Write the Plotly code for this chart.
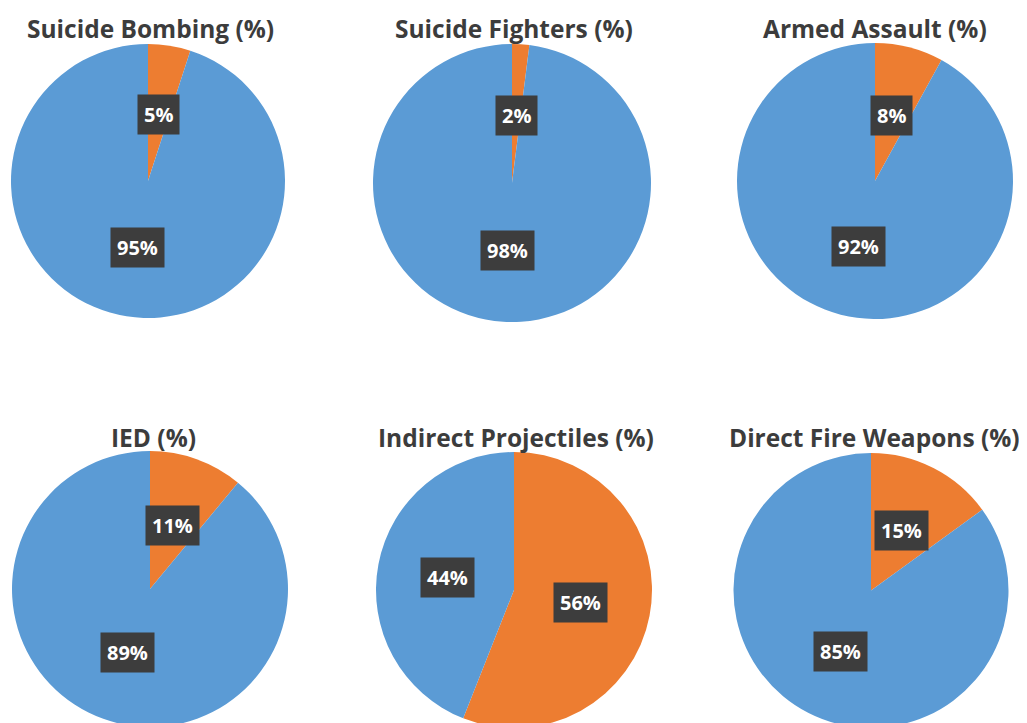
import math
import plotly.graph_objects as go

# ---- data ----
titles = ["Suicide Bombing (%)", "Suicide Fighters (%)", "Armed Assault (%)",
          "IED (%)", "Indirect Projectiles (%)", "Direct Fire Weapons (%)"]
orange_vals = [5, 2, 8, 11, 56, 15]
blue_vals = [95, 98, 92, 89, 44, 85]
slice_names = ["Yes", "No"]

# ---- layout geometry (reference pixels; page has an 8px body margin) ----
OFF = 8
W, H = 1019, 720
centers = [(148, 181), (512, 183), (875, 181), (150, 589), (514, 590), (871, 591)]
radii = [137, 139, 138, 138, 138, 138]
title_y = [28, 28, 28, 437, 437, 437]
title_x = [150, 514, 875, 153, 516, 874]

ORANGE = "#ED7D31"
BLUE = "#5B9BD5"


def to_paper(px, py):
    return (px - OFF) / W, 1 - (py - OFF) / H


fig = go.Figure()
annotations = []
for i, t in enumerate(titles):
    cx, cy = centers[i]
    r = radii[i]
    x0, y1 = to_paper(cx - r, cy - r)
    x1, y0 = to_paper(cx + r, cy + r)
    vals = [orange_vals[i], blue_vals[i]]
    fig.add_trace(go.Pie(
        labels=slice_names, values=vals, sort=False, direction="clockwise",
        rotation=0, marker=dict(colors=[ORANGE, BLUE], line=dict(width=0)),
        textinfo="none", hoverinfo="label+percent", showlegend=False,
        domain=dict(x=[max(0, x0), min(1, x1)], y=[max(0, y0), min(1, y1)])))
    total = sum(vals)
    cum = 0
    for v in vals:
        mid = (cum + v / 2) / total
        cum += v
        th = 2 * math.pi * mid
        px = cx + 0.49 * r * math.sin(th)
        py = cy - 0.49 * r * math.cos(th)
        ax, ay = to_paper(px, py)
        annotations.append(dict(
            x=ax, y=ay, xref="paper", yref="paper", xanchor="center", yanchor="middle",
            text=f"{v}%", showarrow=False, bgcolor="#3d3d3d",
            borderpad=6, font=dict(family="Open Sans", size=20, color="white", weight="bold")))
    tx, ty = to_paper(title_x[i], title_y[i])
    annotations.append(dict(
        x=tx, y=ty, xref="paper", yref="paper",
        text=t, showarrow=False, xanchor="center", yanchor="middle",
        font=dict(family="Open Sans", size=24.5, color="#3c3c3c", weight="bold")))

fig.update_layout(width=W, height=H, margin=dict(l=0, r=0, t=0, b=0),
                  paper_bgcolor="white", plot_bgcolor="white",
                  annotations=annotations)
fig.write_html("out.html")
